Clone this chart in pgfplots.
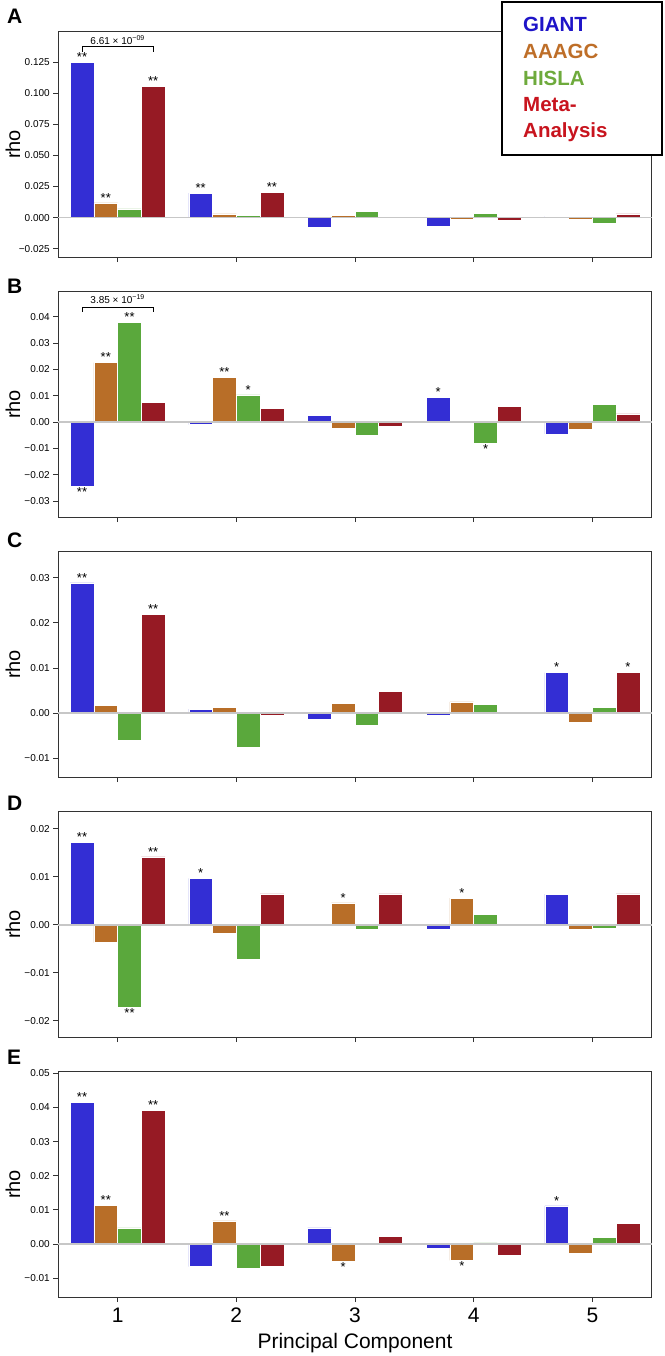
\documentclass[border=0pt]{standalone}
\usepackage{fontspec}
\setmainfont{Liberation Sans}
\usepackage{pgfplots}
\pgfplotsset{compat=1.18}
\definecolor{cblue}{HTML}{332ED4}
\definecolor{corange}{HTML}{B86E28}
\definecolor{cgreen}{HTML}{5AA83C}
\definecolor{cred}{HTML}{961A24}
\definecolor{lblue}{HTML}{1E14C8}
\definecolor{lorange}{HTML}{BE6E28}
\definecolor{lgreen}{HTML}{6EAA3C}
\definecolor{lred}{HTML}{C8141E}
\protected\def\dn#1{\raisebox{-11pt}[0pt][0pt]{#1}}
\pgfplotsset{
 panel/.style={
  scale only axis, width=593.4pt, height=225.5pt,
  xmin=0.5, xmax=5.5, xtick={1,2,3,4,5}, xticklabels={},
  scaled y ticks=false,
  ybar, bar width=0.2,
  axis line style={line width=1.3pt, color=black!80},
  tick style={line width=1pt, color=black!80},
  major tick length=5pt, tick align=outside, tick pos=left,
  yticklabel style={font=\fontsize{10}{12}\selectfont},
  ylabel={rho},
  ylabel style={font=\fontsize{20}{24}\selectfont, at={(axis description cs:-0.0763,0.5)}, anchor=center},
  every axis plot/.append style={draw=white, line width=0.5pt},
  nodes near coords={\pgfplotspointmeta}, point meta=explicit symbolic,
  nodes near coords style={font=\fontsize{13}{13}\selectfont, inner sep=0.5pt, color=black},
  clip=false,
 },
 sB/.style={fill=cblue, bar shift=-0.3},
 sO/.style={fill=corange, bar shift=-0.1},
 sG/.style={fill=cgreen, bar shift=0.1},
 sR/.style={fill=cred, bar shift=0.3},
}
\newcommand{\zeroline}{\draw[color=black!22, line width=1.5pt] (axis cs:0.5,0) -- (axis cs:5.5,0);}
\begin{document}
\begin{tikzpicture}
\path[use as bounding box] (0,0) rectangle (664pt,-1356pt);
% ---------- A ----------
\begin{axis}[panel, at={(58.3pt,-31.7pt)}, anchor=north west,
  ymin=-0.0319, ymax=0.1496,
  ytick={-0.025,0,0.025,0.05,0.075,0.1,0.125},
  yticklabels={−0.025,0.000,0.025,0.050,0.075,0.100,0.125}]
\addplot[sB] coordinates {(1,0.125)[**] (2,0.0196)[**] (3,-0.0077)[] (4,-0.0069)[] (5,0.001)[]};
\addplot[sO] coordinates {(1,0.0118)[**] (2,0.003)[] (3,0.002)[] (4,-0.001)[] (5,-0.0012)[]};
\addplot[sG] coordinates {(1,0.007)[] (2,0.002)[] (3,0.0048)[] (4,0.0032)[] (5,-0.0043)[]};
\addplot[sR] coordinates {(1,0.1057)[**] (2,0.0204)[**] (3,0.001)[] (4,-0.002)[] (5,0.003)[]};
\zeroline
\draw[line width=0.9pt] (axis cs:0.7,0.1335) -- (axis cs:0.7,0.1376) -- (axis cs:1.3,0.1376) -- (axis cs:1.3,0.1335);
\node[anchor=base, font=\fontsize{10}{12}\selectfont, inner sep=0pt] at (axis cs:1,0.1395) {6.61 × 10\textsuperscript{−09}};
\end{axis}
% ---------- B ----------
\begin{axis}[panel, at={(58.3pt,-291.7pt)}, anchor=north west,
  ymin=-0.0361, ymax=0.0495,
  ytick={-0.03,-0.02,-0.01,0,0.01,0.02,0.03,0.04},
  yticklabels={−0.03,−0.02,−0.01,0.00,0.01,0.02,0.03,0.04}]
\addplot[sB] coordinates {(1,-0.0243)[\dn{**}] (2,-0.001)[] (3,0.0025)[] (4,0.0093)[*] (5,-0.0045)[]};
\addplot[sO] coordinates {(1,0.0226)[**] (2,0.0171)[**] (3,-0.0025)[] (4,-0.0003)[] (5,-0.0028)[]};
\addplot[sG] coordinates {(1,0.0379)[**] (2,0.0103)[*] (3,-0.0050)[] (4,-0.0081)[\dn{*}] (5,0.0068)[]};
\addplot[sR] coordinates {(1,0.0076)[] (2,0.0052)[] (3,-0.0015)[] (4,0.0061)[] (5,0.0031)[]};
\zeroline
\draw[line width=0.9pt] (axis cs:0.7,0.0419) -- (axis cs:0.7,0.04355) -- (axis cs:1.3,0.04355) -- (axis cs:1.3,0.0419);
\node[anchor=base, font=\fontsize{10}{12}\selectfont, inner sep=0pt] at (axis cs:1,0.0451) {3.85 × 10\textsuperscript{−19}};
\end{axis}
% ---------- C ----------
\begin{axis}[panel, at={(58.3pt,-551.7pt)}, anchor=north west,
  ymin=-0.0142, ymax=0.0358,
  ytick={-0.01,0,0.01,0.02,0.03},
  yticklabels={−0.01,0.00,0.01,0.02,0.03}]
\addplot[sB] coordinates {(1,0.0289)[**] (2,0.0009)[] (3,-0.0013)[] (4,-0.0005)[] (5,0.0090)[*]};
\addplot[sO] coordinates {(1,0.0017)[] (2,0.0013)[] (3,0.0022)[] (4,0.0025)[] (5,-0.0021)[]};
\addplot[sG] coordinates {(1,-0.0061)[] (2,-0.0076)[] (3,-0.0026)[] (4,0.0019)[] (5,0.0013)[]};
\addplot[sR] coordinates {(1,0.0219)[**] (2,-0.0005)[] (3,0.0049)[] (4,0)[] (5,0.0090)[*]};
\zeroline
\end{axis}
% ---------- D ----------
\begin{axis}[panel, at={(58.3pt,-811.7pt)}, anchor=north west,
  ymin=-0.0234, ymax=0.0236,
  ytick={-0.02,-0.01,0,0.01,0.02},
  yticklabels={−0.02,−0.01,0.00,0.01,0.02}]
\addplot[sB] coordinates {(1,0.0172)[**] (2,0.0097)[*] (3,0)[] (4,-0.0010)[] (5,0.0064)[]};
\addplot[sO] coordinates {(1,-0.0037)[] (2,-0.0017)[] (3,0.0046)[*] (4,0.0056)[*] (5,-0.0008)[]};
\addplot[sG] coordinates {(1,-0.0171)[\dn{**}] (2,-0.0072)[] (3,-0.0009)[] (4,0.0022)[] (5,-0.0006)[]};
\addplot[sR] coordinates {(1,0.0142)[**] (2,0.0065)[] (3,0.0065)[] (4,-0.0003)[] (5,0.0065)[]};
\zeroline
\end{axis}
% ---------- E ----------
\begin{axis}[panel, at={(58.3pt,-1071.7pt)}, anchor=north west,
  ymin=-0.0156, ymax=0.0505,
  ytick={-0.01,0,0.01,0.02,0.03,0.04,0.05},
  yticklabels={−0.01,0.00,0.01,0.02,0.03,0.04,0.05},
  xticklabels={1,2,3,4,5},
  xticklabel style={font=\fontsize{21}{24}\selectfont, yshift=-2pt},
  xlabel={Principal Component},
  xlabel style={font=\fontsize{21}{24}\selectfont, at={(axis description cs:0.5,-0.205)}, anchor=center}]
\addplot[sB] coordinates {(1,0.0415)[**] (2,-0.0066)[] (3,0.0047)[] (4,-0.0013)[] (5,0.0112)[*]};
\addplot[sO] coordinates {(1,0.0114)[**] (2,0.0068)[**] (3,-0.0051)[\dn{*}] (4,-0.0048)[\dn{*}] (5,-0.0028)[]};
\addplot[sG] coordinates {(1,0.0047)[] (2,-0.0071)[] (3,-0.0002)[] (4,0.0003)[] (5,0.0020)[]};
\addplot[sR] coordinates {(1,0.0391)[**] (2,-0.0066)[] (3,0.0023)[] (4,-0.0032)[] (5,0.0061)[]};
\zeroline
\end{axis}
% panel letters
\foreach \L/\Y in {A/15.8,B/286,C/540,D/803,E/1057.5}{
  \node[anchor=west, font=\fontsize{21}{21}\selectfont\bfseries, inner sep=0pt] at (7pt,-\Y pt) {\L};
}
% legend box
\draw[line width=2pt, fill=white] (501.7pt,-1.7pt) rectangle (661.7pt,-155pt);
\begin{scope}[every node/.style={anchor=base west, inner sep=0pt, font=\fontsize{20.5}{24}\selectfont\bfseries}]
\node[text=lblue] at (523pt,-31.7pt) {GIANT};
\node[text=lorange] at (523pt,-59pt) {AAAGC};
\node[text=lgreen] at (523pt,-85.7pt) {HISLA};
\node[text=lred] at (523pt,-111.7pt) {Meta-};
\node[text=lred] at (523pt,-137.7pt) {Analysis};
\end{scope}
\end{tikzpicture}
\end{document}
